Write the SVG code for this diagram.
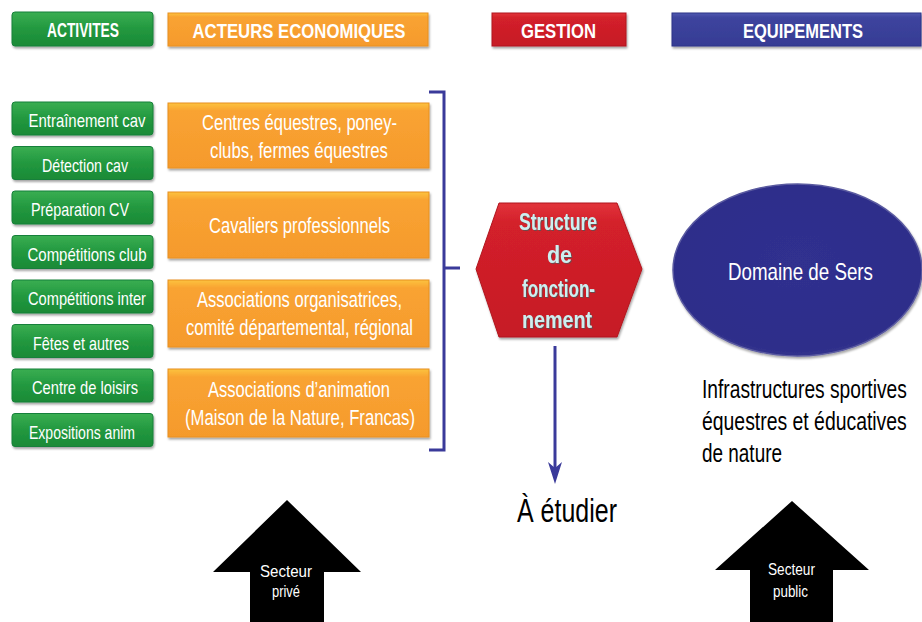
<svg xmlns="http://www.w3.org/2000/svg" width="922" height="622" viewBox="0 0 922 622">
<defs>
<linearGradient id="gGreen" x1="0" y1="0" x2="0" y2="1"><stop offset="0" stop-color="#3aae52"/><stop offset="0.5" stop-color="#22983f"/><stop offset="1" stop-color="#1a8a36"/></linearGradient>
<linearGradient id="gOrange" x1="0" y1="0" x2="0" y2="1"><stop offset="0" stop-color="#fcc33e"/><stop offset="0.12" stop-color="#f9a332"/><stop offset="1" stop-color="#f59a2c"/></linearGradient>
<linearGradient id="gRed" x1="0" y1="0" x2="0" y2="1"><stop offset="0" stop-color="#e2343b"/><stop offset="0.15" stop-color="#d3202a"/><stop offset="1" stop-color="#c61c25"/></linearGradient>
<linearGradient id="gBlue" x1="0" y1="0" x2="0" y2="1"><stop offset="0" stop-color="#5058b0"/><stop offset="0.15" stop-color="#3d449e"/><stop offset="1" stop-color="#363c94"/></linearGradient>
<radialGradient id="gEll" cx="0.5" cy="0.45" r="0.6"><stop offset="0" stop-color="#30308f"/><stop offset="0.85" stop-color="#2d2d8a"/><stop offset="1" stop-color="#3a3a90"/></radialGradient>
<filter id="sh" x="-5%" y="-10%" width="115%" height="130%"><feDropShadow dx="1" dy="2" stdDeviation="1.2" flood-color="#000" flood-opacity="0.35"/></filter>
<filter id="tsh" x="-5%" y="-10%" width="115%" height="130%"><feDropShadow dx="1" dy="1" stdDeviation="0.6" flood-color="#555" flood-opacity="0.8"/></filter>
</defs>
<style>
text{font-family:"Liberation Sans",Arial,sans-serif;}
.hd{fill:#fff;font-weight:bold;font-size:21px;text-anchor:middle;}
.gt{fill:#fff;font-size:18.5px;text-anchor:middle;}
.ot{fill:#fff;font-size:21.5px;text-anchor:middle;}
.st{fill:#cdeff0;font-weight:bold;font-size:24px;text-anchor:middle;}
.bt{fill:#000;font-size:25px;}
.wt{fill:#fff;font-size:17px;text-anchor:middle;}
.green{fill:url(#gGreen);stroke:#17803a;stroke-width:1;}
.orange{fill:url(#gOrange);stroke:#e8901f;stroke-width:1;}
.conn{fill:none;stroke:#3a3a9a;stroke-width:3;}
</style>
<rect width="922" height="622" fill="#fff"/>

<g id="hdr-activites"><rect x="12" y="12" width="141" height="34" rx="3" class="green" filter="url(#sh)"/><text x="83" y="37" class="hd" font-size="18" textLength="72" lengthAdjust="spacingAndGlyphs">ACTIVITES</text></g>
<g id="hdr-acteurs"><rect x="168" y="13" width="260" height="33" class="orange" filter="url(#sh)"/><text x="299" y="38" class="hd" textLength="213" lengthAdjust="spacingAndGlyphs">ACTEURS ECONOMIQUES</text></g>
<g id="hdr-gestion"><rect x="492" y="13" width="134" height="33" fill="url(#gRed)" stroke="#b0161e" filter="url(#sh)"/><text x="558.5" y="38" class="hd" textLength="75" lengthAdjust="spacingAndGlyphs">GESTION</text></g>
<g id="hdr-equipements"><rect x="672" y="13" width="249" height="33" fill="url(#gBlue)" stroke="#2e3488" filter="url(#sh)"/><text x="803" y="38" class="hd" textLength="120" lengthAdjust="spacingAndGlyphs">EQUIPEMENTS</text></g>

<g id="act-1"><rect x="12" y="102" width="141" height="33" rx="3" class="green" filter="url(#sh)"/><text x="87" y="127" class="gt" textLength="117" lengthAdjust="spacingAndGlyphs">Entraînement cav</text></g>
<g id="act-2"><rect x="12" y="146.5" width="141" height="33" rx="3" class="green" filter="url(#sh)"/><text x="85" y="172" class="gt" textLength="86" lengthAdjust="spacingAndGlyphs">Détection cav</text></g>
<g id="act-3"><rect x="12" y="191" width="141" height="33" rx="3" class="green" filter="url(#sh)"/><text x="80" y="216" class="gt" textLength="98" lengthAdjust="spacingAndGlyphs">Préparation CV</text></g>
<g id="act-4"><rect x="12" y="235.5" width="141" height="33" rx="3" class="green" filter="url(#sh)"/><text x="87" y="261" class="gt" textLength="119" lengthAdjust="spacingAndGlyphs">Compétitions club</text></g>
<g id="act-5"><rect x="12" y="280" width="141" height="33" rx="3" class="green" filter="url(#sh)"/><text x="87" y="305" class="gt" textLength="118" lengthAdjust="spacingAndGlyphs">Compétitions inter</text></g>
<g id="act-6"><rect x="12" y="324.5" width="141" height="33" rx="3" class="green" filter="url(#sh)"/><text x="81" y="350" class="gt" textLength="96" lengthAdjust="spacingAndGlyphs">Fêtes et autres</text></g>
<g id="act-7"><rect x="12" y="369" width="141" height="33" rx="3" class="green" filter="url(#sh)"/><text x="85" y="394" class="gt" textLength="106" lengthAdjust="spacingAndGlyphs">Centre de loisirs</text></g>
<g id="act-8"><rect x="12" y="413.5" width="141" height="33" rx="3" class="green" filter="url(#sh)"/><text x="82" y="439" class="gt" textLength="106" lengthAdjust="spacingAndGlyphs">Expositions anim</text></g>

<g id="acteur-1"><rect x="168" y="103" width="261" height="65" class="orange" filter="url(#sh)"/><text x="299.5" y="130" class="ot" textLength="195" lengthAdjust="spacingAndGlyphs">Centres équestres, poney-</text><text x="299" y="158" class="ot" textLength="178" lengthAdjust="spacingAndGlyphs">clubs, fermes équestres</text></g>
<g id="acteur-2"><rect x="168" y="192" width="261" height="66" class="orange" filter="url(#sh)"/><text x="299.5" y="233" class="ot" textLength="181" lengthAdjust="spacingAndGlyphs">Cavaliers professionnels</text></g>
<g id="acteur-3"><rect x="168" y="280" width="261" height="67" class="orange" filter="url(#sh)"/><text x="299.5" y="307" class="ot" textLength="205" lengthAdjust="spacingAndGlyphs">Associations organisatrices,</text><text x="299.5" y="335" class="ot" textLength="227" lengthAdjust="spacingAndGlyphs">comité départemental, régional</text></g>
<g id="acteur-4"><rect x="168" y="369" width="261" height="68" class="orange" filter="url(#sh)"/><text x="299" y="397" class="ot" textLength="182" lengthAdjust="spacingAndGlyphs">Associations d’animation</text><text x="300" y="425" class="ot" textLength="230" lengthAdjust="spacingAndGlyphs">(Maison de la Nature, Francas)</text></g>

<g id="structure"><polygon points="476,269 499,203 617,203 642,269 617,337 499,337" fill="url(#gRed)" stroke="#b0161e" filter="url(#sh)"/>
<g filter="url(#tsh)"><text x="558" y="230" class="st" textLength="78" lengthAdjust="spacingAndGlyphs">Structure</text><text x="559.5" y="263" class="st" textLength="25" lengthAdjust="spacingAndGlyphs">de</text><text x="558.5" y="297" class="st" textLength="73" lengthAdjust="spacingAndGlyphs">fonction-</text><text x="557" y="328" class="st" textLength="70" lengthAdjust="spacingAndGlyphs">nement</text></g></g>

<g id="domaine"><ellipse cx="797.5" cy="270" rx="124.5" ry="86" fill="url(#gEll)" stroke="#5a5aa0" stroke-width="1.5" filter="url(#sh)"/><text x="800.5" y="280" style="fill:#fff;text-anchor:middle;font-size:24px" textLength="145" lengthAdjust="spacingAndGlyphs">Domaine de Sers</text></g>

<g id="infra">
<text transform="translate(702,398) scale(0.8,1)" x="0" y="0" class="bt" textLength="256" lengthAdjust="spacingAndGlyphs">Infrastructures sportives</text>
<text transform="translate(702,430) scale(0.8,1)" x="0" y="0" class="bt" textLength="256" lengthAdjust="spacingAndGlyphs">équestres et éducatives</text>
<text transform="translate(702,462) scale(0.8,1)" x="0" y="0" class="bt" textLength="100" lengthAdjust="spacingAndGlyphs">de nature</text>
</g>

<g id="etudier"><text x="517" y="522" class="bt" font-size="34" style="font-size:34px" textLength="100" lengthAdjust="spacingAndGlyphs">À étudier</text></g>

<g id="secteur-prive"><polygon points="287,500 361,572 324,572 324,622 250,622 250,572 213,572" fill="#000"/><text x="286" y="577" class="wt" textLength="52" lengthAdjust="spacingAndGlyphs">Secteur</text><text x="286" y="597" class="wt" textLength="28" lengthAdjust="spacingAndGlyphs">privé</text></g>
<g id="secteur-public"><polygon points="792,501 869,570 833,570 833,622 750,622 750,570 715,570" fill="#000"/><text x="791.5" y="575" class="wt" textLength="47" lengthAdjust="spacingAndGlyphs">Secteur</text><text x="790.5" y="597" class="wt" textLength="35" lengthAdjust="spacingAndGlyphs">public</text></g>

<g id="connectors">
<path class="conn" d="M429,92 H444 V450 H429 M444,268 H460"/>
<line x1="555" y1="346" x2="555" y2="468" stroke="#3a3a9a" stroke-width="3"/>
<polygon points="548,462 555,468 562,462 555,484" fill="#3a3a9a"/>
</g>
</svg>
